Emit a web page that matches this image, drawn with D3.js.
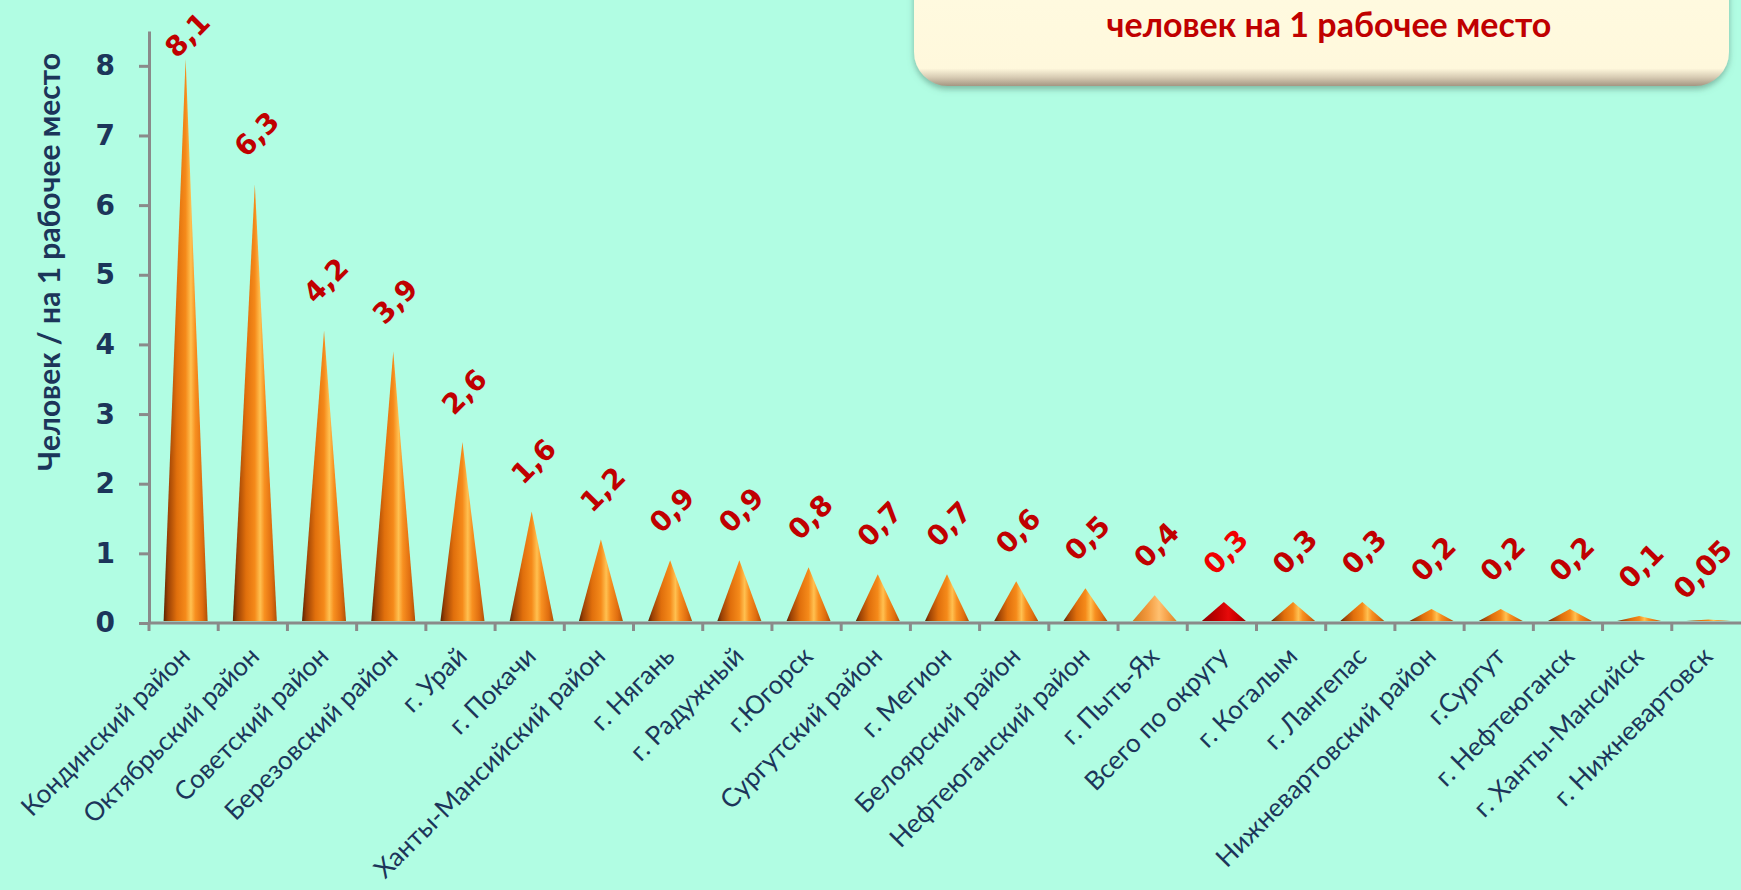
<!DOCTYPE html>
<html>
<head>
<meta charset="utf-8">
<script src="https://cdn.jsdelivr.net/npm/d3@7"></script>
<style>
  body { margin: 0; background: #b1fde3; overflow: hidden; }
  svg { display: block; }
</style>
</head>
<body>
<script>
// Data
var categories = ['Кондинский район', 'Октябрьский район', 'Советский район', 'Березовский район',
  'г. Урай', 'г. Покачи', 'Ханты-Мансийский район', 'г. Нягань', 'г. Радужный', 'г.Югорск',
  'Сургутский район', 'г. Мегион', 'Белоярский район', 'Нефтеюганский район', 'г. Пыть-Ях',
  'Всего по округу', 'г. Когалым', 'г. Лангепас', 'Нижневартовский район', 'г.Сургут',
  'г. Нефтеюганск', 'г. Ханты-Мансийск', 'г. Нижневартовск']
var values = [8.1, 6.3, 4.2, 3.9, 2.6, 1.6, 1.2, 0.9, 0.9, 0.8, 0.7, 0.7, 0.6, 0.5, 0.4,
  0.3, 0.3, 0.3, 0.2, 0.2, 0.2, 0.1, 0.05]
var valueLabels = ['8,1', '6,3', '4,2', '3,9', '2,6', '1,6', '1,2', '0,9', '0,9', '0,8', '0,7', '0,7',
  '0,6', '0,5', '0,4', '0,3', '0,3', '0,3', '0,2', '0,2', '0,2', '0,1', '0,05']
var yTicks = [0, 1, 2, 3, 4, 5, 6, 7, 8]
var yTitle = 'Человек / на 1 рабочее место'
var boxTitle = 'человек на 1 рабочее место'

var data = categories.map(function (c, i) {
  return { name: c, value: values[i], label: valueLabels[i] }
})

var W = 1741, H = 890
var svg = d3.select('body').append('svg')
  .attr('width', W)
  .attr('height', H)

svg.append('rect')
  .attr('width', W).attr('height', H)
  .attr('fill', '#b1fde3')

var defs = svg.append('defs')

function coneGradient(id, stops) {
  var g = defs.append('linearGradient')
    .attr('id', id)
    .attr('x1', 0).attr('x2', 1).attr('y1', 0).attr('y2', 0)
  stops.forEach(function (s) {
    g.append('stop').attr('offset', s[0]).attr('stop-color', s[1])
  })
}
coneGradient('cone', [[0, '#5c2400'], [0.1, '#9c4205'], [0.3, '#e06f0c'], [0.5, '#f58a1a'],
  [0.62, '#ffc050'], [0.72, '#f89020'], [0.88, '#e06e10'], [1, '#b05008']])
coneGradient('coneLight', [[0, '#d2781e'], [0.35, '#f39a3e'], [0.6, '#ffc070'], [0.8, '#f6a048'], [1, '#d98428']])
coneGradient('coneRed', [[0, '#8c0000'], [0.35, '#c40000'], [0.6, '#e60a0a'], [0.8, '#cc0000'], [1, '#9a0000']])

var shadow = defs.append('filter').attr('id', 'boxShadow')
  .attr('x', '-5%').attr('y', '-20%').attr('width', '110%').attr('height', '150%')
shadow.append('feDropShadow')
  .attr('dx', 0).attr('dy', 3).attr('stdDeviation', 3)
  .attr('flood-color', '#4f7d6c').attr('flood-opacity', 0.55)

var boxGrad = defs.append('linearGradient').attr('id', 'boxGrad')
  .attr('x1', 0).attr('x2', 0).attr('y1', 0).attr('y2', 1)
boxGrad.append('stop').attr('offset', 0).attr('stop-color', '#fffbe1')
boxGrad.append('stop').attr('offset', 0.86).attr('stop-color', '#fff8dc')
boxGrad.append('stop').attr('offset', 0.93).attr('stop-color', '#d8ccb4')
boxGrad.append('stop').attr('offset', 1).attr('stop-color', '#a49682')

// Scales
var x = d3.scaleBand()
  .domain(categories)
  .range([149, 1741])
  .paddingInner(0).paddingOuter(0)
var y = d3.scaleLinear()
  .domain([0, 8.5])
  .range([623, 31])

var axisColor = '#8a8a8a'
var navy = '#1c355a'

// Title box (top right)
svg.append('rect')
  .attr('x', 914).attr('y', -40)
  .attr('width', 815).attr('height', 126)
  .attr('rx', 34).attr('ry', 34)
  .attr('fill', 'url(#boxGrad)')
  .attr('filter', 'url(#boxShadow)')
svg.append('text')
  .attr('x', 1329).attr('y', 37)
  .attr('text-anchor', 'middle')
  .attr('font-family', 'Lato, sans-serif')
  .attr('font-weight', 'bold')
  .attr('font-size', '34px')
  .attr('fill', '#c00000')
  .text(boxTitle)

// Cones
var bw = x.bandwidth()
var baseW = 44
var y0 = y(0) - 2
function cx(d) { return x(d.name) + bw / 2 + 2 }

svg.selectAll('path.cone')
  .data(data)
  .enter()
  .append('path')
  .attr('class', 'cone')
  .attr('d', function (d) {
    var c = cx(d)
    return 'M' + (c - baseW / 2) + ',' + y0 + 'L' + c + ',' + y(d.value) + 'L' + (c + baseW / 2) + ',' + y0 + 'Z'
  })
  .attr('fill', function (d) {
    if (d.name === 'Всего по округу') return 'url(#coneRed)'
    if (d.name === 'г. Пыть-Ях') return 'url(#coneLight)'
    return 'url(#cone)'
  })

// Y-axis
var yAxis = d3.axisLeft(y)
  .tickValues(yTicks)
  .tickSize(10)
  .tickSizeOuter(0)
  .tickPadding(24)
var yg = svg.append('g')
  .attr('transform', 'translate(149,0)')
  .call(yAxis)
yg.select('.domain').attr('stroke', axisColor).attr('stroke-width', 3)
yg.selectAll('.tick line').attr('stroke', axisColor).attr('stroke-width', 3)
yg.selectAll('.tick text')
  .attr('font-family', 'DejaVu Sans, Verdana, sans-serif')
  .attr('font-weight', 'bold')
  .attr('font-size', '28px')
  .attr('fill', navy)

// X-axis
svg.append('line')
  .attr('x1', 149).attr('x2', W)
  .attr('y1', y(0)).attr('y2', y(0))
  .attr('stroke', axisColor).attr('stroke-width', 3)
svg.selectAll('line.xtick')
  .data(categories)
  .enter()
  .append('line')
  .attr('class', 'xtick')
  .attr('x1', function (d) { return x(d) }).attr('x2', function (d) { return x(d) })
  .attr('y1', y(0)).attr('y2', y(0) + 8)
  .attr('stroke', axisColor).attr('stroke-width', 3)

svg.selectAll('text.xlab')
  .data(data)
  .enter()
  .append('text')
  .attr('class', 'xlab')
  .attr('transform', function (d) {
    return 'translate(' + (x(d.name) + bw / 2 + 8) + ',' + (y(0) + 35) + ') rotate(-45)'
  })
  .attr('text-anchor', 'end')
  .attr('font-family', 'Lato, sans-serif')
  .attr('font-size', '26px')
  .attr('fill', navy)
  .text(function (d) { return d.name })

// Value labels (kept inside the chart area like the original)
svg.selectAll('text.vlab')
  .data(data)
  .enter()
  .append('text')
  .attr('class', 'vlab')
  .attr('transform', function (d) {
    var ly = Math.max(y(d.value) - 50, 35)
    var lx = Math.min(cx(d) + 2, W - 38)
    return 'translate(' + lx + ',' + ly + ') rotate(-45)'
  })
  .attr('text-anchor', 'middle')
  .attr('dominant-baseline', 'central')
  .attr('font-family', 'DejaVu Sans, Verdana, sans-serif')
  .attr('font-weight', 'bold')
  .attr('font-size', '28px')
  .attr('fill', function (d) { return d.name === 'Всего по округу' ? '#f00000' : '#c00000' })
  .text(function (d) { return d.label })

// Y-axis title
svg.append('text')
  .attr('transform', 'translate(48,262) rotate(-90)')
  .attr('text-anchor', 'middle')
  .attr('dominant-baseline', 'central')
  .attr('font-family', 'Lato, sans-serif')
  .attr('font-weight', 'bold')
  .attr('font-size', '30px')
  .attr('fill', navy)
  .text(yTitle)
</script>
</body>
</html>
